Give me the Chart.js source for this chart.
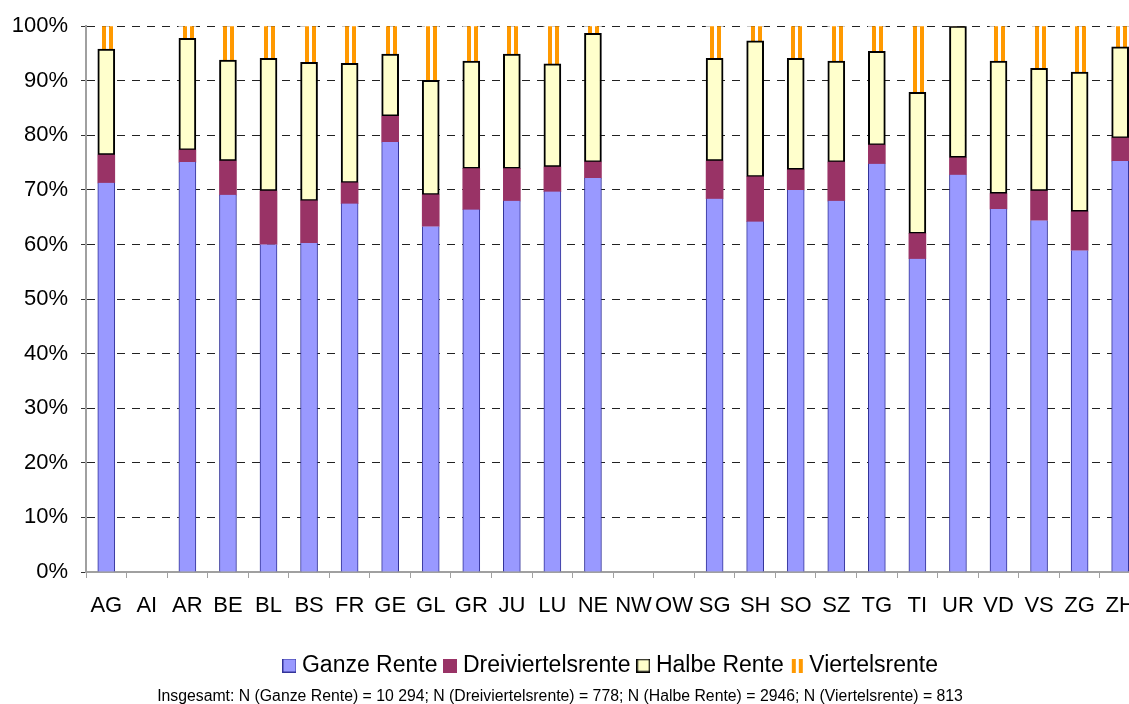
<!DOCTYPE html>
<html>
<head>
<meta charset="utf-8">
<script src="https://cdn.jsdelivr.net/npm/chart.js@4.4.1/dist/chart.umd.min.js"></script>
<style>
  html, body { margin: 0; padding: 0; overflow: hidden; background: #fff; }
  #wrap { position: relative; width: 1129px; height: 704px; overflow: hidden; }
  #note {
    position: absolute; left: 0; width: 1120px; top: 687px;
    text-align: center; font: 15.8px Arial, "Liberation Sans", sans-serif; color: #000;
  }
</style>
</head>
<body>
<div id="wrap">
  <canvas id="myChart" width="1150" height="704"></canvas>
  <div id="note">Insgesamt: N (Ganze Rente) = 10 294; N (Dreiviertelsrente) = 778; N (Halbe Rente) = 2946; N (Viertelsrente) = 813</div>
</div>
<script>
// Kantone
var kantone = ["AG", "AI", "AR", "BE", "BL", "BS", "FR", "GE", "GL", "GR", "JU", "LU", "NE", "NW", "OW",
  "SG", "SH", "SO", "SZ", "TG", "TI", "UR", "VD", "VS", "ZG", "ZH"];

// Anteile in % (AI, NW, OW ohne Daten)
var ganze = [71.3, null, 75.1, 69.1, 60.0, 60.3, 67.5, 78.8, 63.3, 66.4, 68.0, 69.7, 72.2, null, null,
  68.4, 64.2, 70.0, 68.0, 74.8, 57.4, 72.8, 66.5, 64.4, 58.9, 75.3];
var dreiviertel = [5.1, null, 2.2, 6.2, 9.8, 7.7, 3.8, 4.7, 5.8, 7.5, 5.9, 4.5, 2.9, null, null,
  6.9, 8.2, 3.7, 7.1, 3.4, 4.6, 3.1, 2.8, 5.4, 7.1, 4.2];
var halbe = [19.4, null, 20.5, 18.5, 24.3, 25.4, 21.9, 11.4, 21.0, 19.7, 21.0, 18.9, 23.6, null, null,
  18.8, 24.9, 20.4, 18.5, 17.2, 25.9, 24.1, 24.3, 22.5, 25.6, 16.7];
var viertel = [4.2, null, 2.2, 6.2, 5.9, 6.6, 6.8, 5.1, 9.9, 6.4, 5.1, 6.9, 1.3, null, null,
  5.9, 2.7, 5.9, 6.4, 4.6, 12.1, 0, 6.4, 7.7, 8.4, 3.8];

var yTicks = [0, 10, 20, 30, 40, 50, 60, 70, 80, 90, 100];

var schrift = 'Arial, "Liberation Sans", sans-serif';
var orange = "#FF9900";
var barW = 17;

// vertical orange stripes, aligned to each bar
function streifen(context) {
  var chart = context.chart;
  var xs = chart.scales.x;
  if (!xs || context.dataIndex === undefined) return orange;
  var cx = xs.getPixelForValue(context.dataIndex);
  var g = chart.ctx.createLinearGradient(cx - barW / 2, 0, cx + barW / 2, 0);
  var stops = [[0, "#fff"], [4 / 17, "#fff"], [4 / 17, orange], [8 / 17, orange], [8 / 17, "#fff"],
    [11 / 17, "#fff"], [11 / 17, orange], [15 / 17, orange], [15 / 17, "#fff"], [1, "#fff"]];
  stops.forEach(function (s) { g.addColorStop(s[0], s[1]); });
  return g;
}

function icon(fill, line, lw) {
  var c = document.createElement("canvas");
  c.width = 14; c.height = 14;
  var k = c.getContext("2d");
  k.fillStyle = fill;
  k.fillRect(0, 0, 14, 14);
  if (line) {
    k.strokeStyle = line;
    k.lineWidth = lw;
    k.strokeRect(lw / 2, lw / 2, 14 - lw, 14 - lw);
  }
  return c;
}
function iconStreifen() {
  var c = document.createElement("canvas");
  c.width = 14; c.height = 14;
  var k = c.getContext("2d");
  k.fillStyle = orange;
  k.fillRect(2, 0, 4, 14);
  k.fillRect(9, 0, 4, 14);
  return c;
}
var icons = [icon("#9999FF", "#333399", 1), icon("#993366", null, 0), icon("#FFFFCC", "#000", 1.5), iconStreifen()];

new Chart("myChart", {
  type: "bar",
  data: {
    labels: kantone,
    datasets: [{
      label: "Ganze Rente",
      data: ganze,
      backgroundColor: "#9999FF",
      borderColor: "#333399",
      borderWidth: { left: 1, right: 1, top: 0, bottom: 0 },
      borderSkipped: false
    }, {
      label: "Dreiviertelsrente",
      data: dreiviertel,
      backgroundColor: "#993366",
      borderWidth: 0
    }, {
      label: "Halbe Rente",
      data: halbe,
      backgroundColor: "#FFFFCC",
      borderColor: "#000",
      borderWidth: 2,
      borderSkipped: false
    }, {
      label: "Viertelsrente",
      data: viertel,
      backgroundColor: streifen,
      borderWidth: 0
    }]
  },
  options: {
    responsive: false,
    animation: false,
    barThickness: barW,
    layout: { padding: { top: 25, left: 0, right: 9, bottom: 17 } },
    scales: {
      x: {
        stacked: true,
        afterFit: function (s) { s.height = 70; },
        grid: { drawOnChartArea: false, drawTicks: true, tickLength: 6, tickColor: "#a0a0a0", offset: true },
        border: { color: "#a0a0a0", width: 2 },
        ticks: { autoSkip: false, maxRotation: 0, color: "#000", padding: 15, font: { family: schrift, size: 22 } }
      },
      y: {
        stacked: true,
        min: 0,
        max: 100,
        afterFit: function (s) { s.width = 86; },
        afterBuildTicks: function (s) { s.ticks = yTicks.map(function (v) { return { value: v }; }); },
        grid: {
          color: function (c) { return c.tick && c.tick.value === 0 ? "rgba(0,0,0,0)" : "#222"; },
          tickColor: "#333",
          tickLength: 5,
          tickBorderDash: []
        },
        border: { color: "#a0a0a0", width: 2, dash: [8, 7] },
        ticks: {
          color: "#000",
          padding: 13,
          font: { family: schrift, size: 22 },
          callback: function (v) { return v + "%"; }
        }
      }
    },
    plugins: {
      tooltip: { enabled: false },
      legend: {
        position: "bottom",
        fullSize: false,
        labels: {
          color: "#000",
          font: { family: schrift, size: 23 },
          usePointStyle: true,
          boxWidth: 2,
          boxHeight: 14,
          padding: 12,
          generateLabels: function (chart) {
            return chart.data.datasets.map(function (ds, i) {
              return { text: ds.label, pointStyle: icons[i], fillStyle: "#fff", strokeStyle: "#fff", lineWidth: 0, hidden: false, datasetIndex: i };
            });
          }
        }
      }
    }
  }
});
</script>
</body>
</html>
